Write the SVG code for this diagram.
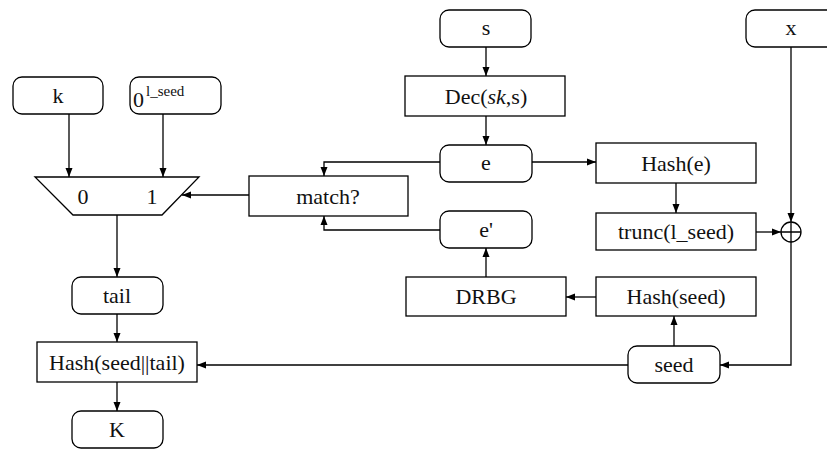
<svg xmlns="http://www.w3.org/2000/svg" width="827" height="450" viewBox="0 0 827 450">
<style>
.b{fill:#fff;stroke:#000;stroke-width:1.3}
.t{font-family:"Liberation Serif","DejaVu Serif",serif;font-size:22px;fill:#111;text-anchor:middle}
.c{fill:none;stroke:#000;stroke-width:1.3}
</style>
<defs>
<marker id="ah" markerWidth="9" markerHeight="8" refX="9" refY="4" orient="auto" markerUnits="userSpaceOnUse">
<path d="M0,0.5 L9,4 L0,7.5 z" fill="#000"/>
</marker>
</defs>
<rect width="827" height="450" fill="#fff"/>
<g id="connectors" class="c">
<path d="M69,114 V177" marker-end="url(#ah)"/>
<path d="M163,114 V177" marker-end="url(#ah)"/>
<path d="M486,47 V76" marker-end="url(#ah)"/>
<path d="M486,116 V145" marker-end="url(#ah)"/>
<path d="M440,162 H324 V176" marker-end="url(#ah)"/>
<path d="M440,230 H324 V216" marker-end="url(#ah)"/>
<path d="M249,195 H182" marker-end="url(#ah)"/>
<path d="M532,162 H596" marker-end="url(#ah)"/>
<path d="M676,183 V213" marker-end="url(#ah)"/>
<path d="M756,232 H781" marker-end="url(#ah)"/>
<path d="M791,47 V222" marker-end="url(#ah)"/>
<path d="M791,242 V365 H720" marker-end="url(#ah)"/>
<path d="M674,346 V316" marker-end="url(#ah)"/>
<path d="M596,297 H566" marker-end="url(#ah)"/>
<path d="M486,277 V248" marker-end="url(#ah)"/>
<path d="M628,365 H197" marker-end="url(#ah)"/>
<path d="M117,215 V277" marker-end="url(#ah)"/>
<path d="M117,314 V342" marker-end="url(#ah)"/>
<path d="M117,382 V411" marker-end="url(#ah)"/>
</g>
<g id="k"><rect class="b" x="13" y="77" width="90" height="37" rx="9"/><text class="t" x="58" y="103">k</text></g>
<g id="zero"><rect class="b" x="130" y="77" width="91" height="37" rx="9"/><text class="t" x="133" y="107" style="text-anchor:start">0</text><text x="146" y="96" style="font-family:'Liberation Serif','DejaVu Serif',serif;font-size:15px;fill:#111">l_seed</text></g>
<g id="mux"><path class="b" d="M35,177 H199 L162,215 H73 Z"/><text class="t" x="83" y="204">0</text><text class="t" x="152" y="204">1</text></g>
<g id="s"><rect class="b" x="440" y="10" width="91" height="37" rx="9"/><text class="t" x="486" y="35">s</text></g>
<g id="x"><rect class="b" x="746" y="10" width="92" height="37" rx="9"/><text class="t" x="791" y="35">x</text></g>
<g id="dec"><rect class="b" x="405" y="76" width="160" height="40"/><text class="t" x="486" y="104">Dec(<tspan font-style="italic">sk</tspan>,s)</text></g>
<g id="e"><rect class="b" x="440" y="145" width="92" height="37" rx="9"/><text class="t" x="486" y="170">e</text></g>
<g id="match"><rect class="b" x="249" y="176" width="159" height="40"/><text class="t" x="328" y="204">match?</text></g>
<g id="eprime"><rect class="b" x="440" y="211" width="92" height="37" rx="9"/><text class="t" x="486" y="237">e'</text></g>
<g id="hashe"><rect class="b" x="596" y="143" width="160" height="40"/><text class="t" x="676" y="171">Hash(e)</text></g>
<g id="trunc"><rect class="b" x="596" y="213" width="160" height="37" /><text class="t" x="676" y="239">trunc(l_seed)</text></g>
<g id="xor"><circle class="b" cx="791" cy="232" r="10"/><path class="c" d="M781,232 H801 M791,222 V242"/></g>
<g id="drbg"><rect class="b" x="406" y="277" width="160" height="39"/><text class="t" x="486" y="304">DRBG</text></g>
<g id="hashseed"><rect class="b" x="596" y="277" width="160" height="39"/><text class="t" x="676" y="304">Hash(seed)</text></g>
<g id="seed"><rect class="b" x="628" y="346" width="92" height="37" rx="9"/><text class="t" x="674" y="372">seed</text></g>
<g id="tail"><rect class="b" x="72" y="277" width="91" height="37" rx="9"/><text class="t" x="117" y="303">tail</text></g>
<g id="hashst"><rect class="b" x="37" y="342" width="160" height="40"/><text class="t" x="117" y="370">Hash(seed||tail)</text></g>
<g id="K"><rect class="b" x="72" y="411" width="91" height="37" rx="9"/><text class="t" x="117" y="437">K</text></g>
</svg>
